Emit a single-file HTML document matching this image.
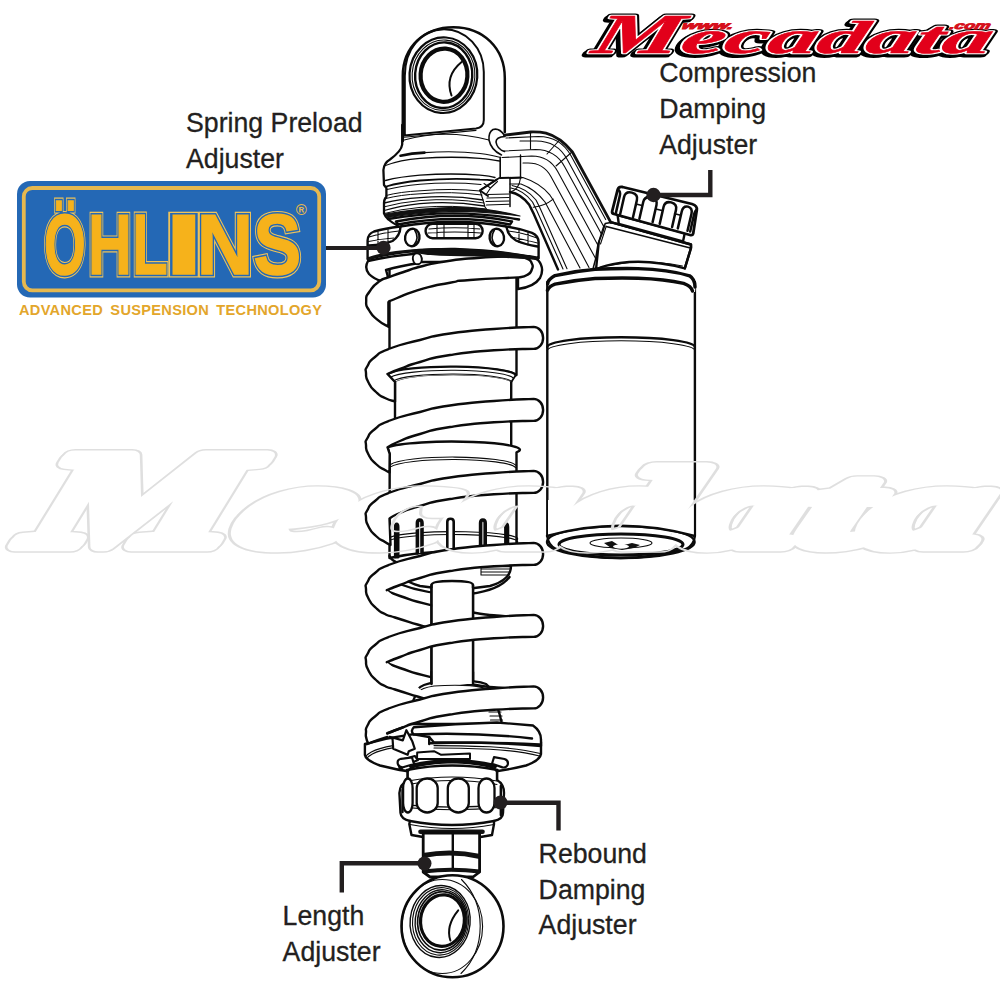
<!DOCTYPE html>
<html lang="en">
<head>
<meta charset="utf-8">
<title>Ohlins shock absorber adjusters</title>
<style>
html,body{margin:0;padding:0;background:#fff;}
body{width:1000px;height:1000px;overflow:hidden;position:relative;font-family:"Liberation Sans",sans-serif;}
svg{position:absolute;left:0;top:0;display:block;}
.lbl{font-family:"Liberation Sans",sans-serif;font-size:26.7px;fill:#231f20;stroke:#231f20;stroke-width:0.3px;}
.k{fill:none;stroke:#0b0b0b;stroke-width:2.4;stroke-linecap:round;stroke-linejoin:round;}
.kw{fill:#fff;stroke:#0b0b0b;stroke-width:2.4;stroke-linecap:round;stroke-linejoin:round;}
.t{fill:none;stroke:#0b0b0b;stroke-width:1.1;stroke-linecap:round;stroke-linejoin:round;}
.tw{fill:#fff;stroke:#0b0b0b;stroke-width:1.1;stroke-linecap:round;stroke-linejoin:round;}
.w{fill:#fff;stroke:none;}
.h{fill:none;stroke:#0b0b0b;stroke-width:3;stroke-linecap:round;stroke-linejoin:round;}
.ld{fill:none;stroke:#231f20;stroke-width:4.4;stroke-linecap:butt;stroke-linejoin:miter;}
</style>
</head>
<body>
<svg width="1000" height="1000" viewBox="0 0 1000 1000">
<g id="reservoir">
<path class="kw" d="M547.3,282 L547.3,536 Q548,545 556,549 Q620,567 686,549 Q694,545 694.9,536 L694.9,282 Z"/>
<ellipse class="k" cx="620.8" cy="542" rx="73.8" ry="16"/>
<path class="w" d="M548,536 L548,500 L693.7,500 L693.7,536 Q620,516 548,536Z"/>
<path class="k" d="M547,536 Q620,515.5 694.7,536"/>
<ellipse class="h" cx="621" cy="544.5" rx="62" ry="10.5"/>
<ellipse class="t" cx="621" cy="543" rx="31" ry="5"/>
<path d="M604,543 L612,541 L620,546 L632,543 L640,545 L634,548 L622,550 L611,548Z" fill="#111"/>
<ellipse cx="621" cy="546.5" rx="8" ry="2.2" fill="#fff"/>
<path class="k" d="M547.3,347 A73.8,9.8 0 0 1 694.9,347"/>
<path class="t" d="M547.3,350.6 A73.8,9.8 0 0 1 694.9,350.6"/>
<path class="w" d="M548,283 Q548,278.5 556,275.5 Q600,268.5 638,268.4 Q668,269 689.6,275.6 Q694.8,279 695.4,288 L695,292 L548,292 Z"/>
<path class="k" style="stroke-width:3.4" d="M547.6,284 Q548,279.5 555,275.6 Q575,271 595,269.2 Q616,268.3 638,268.6 Q668,269.4 689.6,275.8 Q694.8,279 695,287"/>
<path class="k" style="stroke-width:3.4" d="M547.4,290.5 Q549,286.5 555,284.2 Q575,280 595,278.5 Q616,277.8 638,278.2 Q665,279 683.6,283.4 Q691,286 692.5,291"/>
</g>
<g id="arm">
<path class="kw" d="M604.4,220.4 L691,244.5 L691,248 L684.8,268.4 Q650,259 620,263 Q605,265 596,269.5 L599,240 Z"/>
<path class="k" style="stroke-width:2.4" d="M604.4,220.4 L691,244.5 L691,248 L684.8,268.4"/>
<path class="k" style="stroke-width:1.6" d="M606.2,226.4 L690.3,248"/>
<path class="t" d="M597.2,268 Q615,263.5 638,261.8 Q660,261.8 682.4,266"/>
<path class="kw" d="M617.6,215 L684.8,233 L683,241.5 L618.8,224Z"/>
</g>
<g id="knob">
<path class="kw" style="stroke-width:2.8" d="M617.6,189.8 Q618.5,186.3 622.5,187 L692,204 Q697.5,205.8 696.8,210 L693.2,233.6 Q692.6,235.6 690,235 L614,214 Q611.6,213.2 612.2,211 Z"/>
<clipPath id="knobclip"><path d="M617.6,189.8 Q618.5,186.3 622.5,187 L692,204 Q697.5,205.8 696.8,210 L693.2,233.6 Q692.6,235.6 690,235 L614,214 Q611.6,213.2 612.2,211 Z"/></clipPath>
<g clip-path="url(#knobclip)">
<path class="k" style="stroke-width:2.5" d="M605.2,210.2 L609.2,193.2 Q610.5,187.4 615.9,188.6 Q621.2,190.1 619.8,195.9 L615.9,212.9"/>
<path class="k" style="stroke-width:2.5" d="M620.2,214.0 L624.1,196.9 Q625.4,191.2 631.9,192.6 Q638.3,194.4 636.9,200.1 L633.0,217.2"/>
<path class="k" style="stroke-width:2.5" d="M639.4,218.8 L643.3,201.7 Q644.7,196.0 651.3,197.4 Q657.9,199.3 656.5,205.0 L652.6,222.1"/>
<path class="k" style="stroke-width:2.5" d="M659.7,223.9 L663.6,206.8 Q664.9,201.0 671.2,202.4 Q677.4,204.1 676.0,209.9 L672.1,227.0"/>
<path class="k" style="stroke-width:2.5" d="M677.8,228.4 L681.8,211.3 Q683.1,205.6 688.0,206.6 Q692.8,208.0 691.5,213.8 L687.5,230.8"/>
<path class="k" style="stroke-width:2.5" d="M690.2,231.5 L694.1,214.4 Q695.4,208.7 699.4,209.4 Q703.2,210.6 701.9,216.4 L697.9,233.4"/>
</g>
<path class="k" style="stroke-width:1.6" d="M635.9,204.0 L642.1,205.6"/>
<path class="k" style="stroke-width:1.6" d="M655.8,209.0 L662.0,210.5"/>
<path class="k" style="stroke-width:1.6" d="M674.6,213.7 L680.8,215.2"/>
</g>
<g id="body">
<path class="kw" d="M389.5,262 L389.5,374 A65,9 0 0 1 516.5,375 L516.5,262 Z"/>
<path class="kw" d="M395,381 L395,447 A62,8 0 0 1 511.2,450 L511.2,381 A59,8.5 0 0 0 395,381Z"/>
<path class="w" d="M387.5,373.7 A65.5,9.3 0 0 1 515.7,375.2 L511.5,382 A59,8.5 0 0 0 395,382 Z"/>
<path class="k"  d="M387.5,373.7 A65.1,9.3 0 0 1 515.7,375.2"/>
<path class="k" style="stroke-width:1.8" d="M387.5,373.7 L395,382 M515.7,375.2 L511.3,382"/>
<path class="t"  d="M390.5,377.3 A62.5,9.0 0 0 1 513.6,378.3"/>
<path class="t"  d="M393.5,381.0 A59.9,8.8 0 0 1 511.5,381.5"/>
<path class="kw" d="M387.5,447.2 L389.7,454 L389.5,558 Q450,545 516.5,558 L516.5,452.3 A65.5,7.9 0 0 0 387.5,447.2Z"/>
<path class="t"  d="M390.5,464.5 A63.5,9.3 0 0 1 515.7,465.2"/>
<path class="t"  d="M390.5,466.9 A63.5,9.3 0 0 1 515.7,467.6"/>
<path class="t"  d="M390.0,537.5 A64.2,7.2 0 0 1 516.5,540.3"/>
<path class="t"  d="M390.0,540.3 A64.2,7.2 0 0 1 516.5,543.1"/>
<path class="kw" style="stroke-width:3.2" d="M395.5,557.0 L395.5,527.0 Q395.5,524.0 396.7,524.0 Q397.9,524.0 397.9,527.0 L397.9,557.0"/>
<path class="kw" style="stroke-width:3.6" d="M417.4,553.0 L417.4,523.0 Q417.4,520.0 419.7,520.0 Q422.0,520.0 422.0,523.0 L422.0,553.0"/>
<path class="kw" style="stroke-width:2.6" d="M447.3,549.0 L447.3,521.7 Q447.3,518.7 450.5,518.7 Q453.7,518.7 453.7,521.7 L453.7,549.0"/>
<path class="kw" style="stroke-width:3.6" d="M480.6,550.0 L480.6,523.0 Q480.6,520.0 482.9,520.0 Q485.2,520.0 485.2,523.0 L485.2,550.0"/>
<path class="kw" style="stroke-width:3.0" d="M505.6,553.0 L505.6,527.0 Q505.6,524.0 506.7,524.0 Q507.8,524.0 507.8,527.0 L507.8,553.0"/>
<path class="k" d="M389.5,556 Q392,563 410,566 Q450,571 492,566 Q512,562 516.5,556"/>
<path class="kw" d="M398,566 Q398,580 420,586 Q455,592 490,586 Q511,580 511,566 Z"/>
<path class="k" d="M399.5,584 Q430,596 470,594 Q500,590 509.5,577"/>
<path class="t" d="M481,563 L481,575 M481,566 L510,566 M481,569 L510,569 M481,572 L510,572 M481,575 L509,575"/>
<path class="kw" d="M431.5,585 Q431.5,581 452,581 Q473,581 473,585 L473,700 L431.5,700 Z"/>
<path class="kw" d="M414.8,697 Q416,688 424,685 Q434,681.4 452,680.4 Q476,680 486,684 Q489,686 490,690 Q498,705 502,724 L410,724 Q410,705 414.8,697 Z"/>
<path class="w" d="M433,676 L472,676 L472,684 L433,684Z"/>
<path class="k" d="M431.5,672 L431.5,681.8 M473,672 L473,680.2"/>
<path class="t" d="M418.5,692 Q421,688 434,686 Q452,684.6 470,685.6 Q484,686.8 488,690"/>
<path class="t" d="M486,700 L498,700 M487,704 L499,704 M488,708 L500,708 M489,712 L501,712 M490,716 L502,716 M490.5,720 L502.5,720"/>
</g>
<g id="topcap">
<path class="w" d="M402.7,125 L402.7,144.5 Q402,151 390,159.5 Q384,163 383.4,170 L384,185 L386.2,188 L386.2,197 Q384,199 384,203 L384,213.5 Q386,219 397.5,225.5 L512,225 L520,216 L486,195 L495,180.5 L500.2,177.5 L500.2,157 L505,132 L505,120 Z"/>
<path class="k" style="stroke-width:2.3" d="M402.2,125 L402.2,144.5 Q401.5,151 390,159.5 Q384,163 383.4,170 L384,185 L386.4,188 L386.4,197 Q384,199 384,203 L384,213.5 Q386,219.5 397.5,225.5"/>
<path class="k" style="stroke-width:2.6" d="M400.5,155.7 Q411.5,153.1 424.5,152.6"/>
<path class="t" d="M424.5,152.6 Q455,150.5 480,153.5 Q492,155 499.5,157.2"/>
<path class="t" style="stroke-width:1.3" d="M385.5,165.5 Q400,160 420,158.4 Q452,156.2 480,158.3 Q492,159.3 499.5,161"/>
<path class="t" style="stroke-width:1.3" d="M385.5,180.5 Q400,176.8 420,175.2 Q452,172.8 480,175.2 Q490,176.2 495,177.5"/>
<path class="k" style="stroke-width:1.8" d="M386.2,186.5 Q400,182.3 420,180.5 Q452,177.8 480,179.7 Q488,180 493.5,180.5"/>
<path class="k" style="stroke-width:1.6" d="M500.2,157.2 L500.2,177.5 L495,180.5 L480,190.2"/>
<path class="t" d="M497.5,181.5 L490.5,188 L486,194.7 M490.5,188 L484,183.5"/>
<path class="t" d="M387,189.5 Q400,186 420,184.2 Q452,181.8 481,184.5"/>
<path class="t" style="stroke-width:1.0" d="M386.0,195.5 Q400,191.8 420,190.8 Q452,188.0 480.0,191.0"/>
<path class="t" style="stroke-width:1.0" d="M386.0,198.5 Q400,194.8 420,193.8 Q452,191.0 482.0,195.0"/>
<path class="t" style="stroke-width:1.3" d="M384.3,203.0 Q400,199.0 420,197.6 Q452,194.8 483.0,200.0"/>
<path class="t" style="stroke-width:1.0" d="M384.3,206.8 Q400,202.4 420,200.6 Q452,197.8 484.0,203.0"/>
<path class="t" style="stroke-width:1.3" d="M384.3,210.5 Q400,205.8 420,203.6 Q452,200.8 484.5,206.0"/>
<path class="t" style="stroke-width:1.0" d="M384.3,213.5 Q400,209.2 420,207.4 Q452,204.6 486.0,209.0"/>
<path class="t" d="M480,190.5 L483,200 L485,207 L488,211"/>
<path class="w" d="M402.8,138 L402.8,76 C402.8,47 424,27.2 453.5,27.2 C483,27.2 504.8,48 504.8,78 L504.8,133 L489,138 Z"/>
<path class="k" style="stroke-width:2.5" d="M402.8,141 L402.8,76 C402.8,47 424,27.2 453.5,27.2 C483,27.2 504.8,48 504.8,78 L504.8,132"/>
<path class="k" style="stroke-width:2" d="M404.8,135.5 L404.8,76 C404.8,49 421,29.6 444,29.2 C466,29.2 483.8,48 483.8,72 L483.8,120 Q483.8,127.5 476,128.5 L404,135.5"/>
<path class="t" d="M404,137.3 L476,130.4"/>
<path class="t"  d="M404.2,140.0 Q445.4,128.4 489.0,140.0"/>
<g transform="rotate(4 443.5 75.2)">
<ellipse class="k" cx="443.4" cy="75.2" rx="33.9" ry="37.8" style="stroke-width:2.2"/>
<ellipse class="t" cx="443.5" cy="75.2" rx="31.4" ry="35.2"/>
<ellipse class="k" cx="443.7" cy="75.2" rx="28.6" ry="32.8" style="stroke-width:2.4"/>
<ellipse class="k" cx="444" cy="75.2" rx="23.4" ry="26.6" style="stroke-width:4.2"/>
</g>
<path class="k" style="stroke-width:2" d="M461.6,62 Q444.5,76 451.5,95.5"/>
</g>
<g id="spring">
<path class="k" d="M386.8,590.2 C391.2,592.1 385.0,591.0 400.0,596.0 C415.0,601.0 407.0,599.7 431.8,605.3 C456.6,610.9 451.8,609.3 474.5,612.8 C497.2,616.3 480.5,614.1 500.0,615.8 C519.5,617.5 522.0,617.3 533.0,618.0"/>
<path class="k" d="M386.8,662.2 C391.2,664.1 385.0,663.0 400.0,668.0 C415.0,673.0 407.0,671.7 431.8,677.3 C456.6,682.9 451.8,681.3 474.5,684.8 C497.2,688.3 480.5,686.1 500.0,687.8 C519.5,689.5 522.0,689.3 533.0,690.0"/>
<path class="w" d="M432.5,588 L472,588 L472,684 L432.5,684Z"/>
<path class="k" d="M431.5,585 L431.5,684 M473,585 L473,684"/>
<path class="kw" d="M512,254 Q530,254 538,260 Q545,268 540,278 Q534,287 518,289 L518,270 Z"/>
<path class="kw" d="M368,261 Q364,268 369,274 Q374,279 381,281 L388,277 L386,270 Q400,266 419.5,263 Q424,258 417,253.5 Q390,256 368,261Z"/>
<ellipse class="kw" style="stroke-width:1.9" cx="417.3" cy="258.8" rx="4.4" ry="5.5" transform="rotate(-10 417.3 258.8)"/>
<path class="w" d="M519.0,277.4 C521.7,276.6 522.7,277.6 527.0,275.0 C531.3,272.4 530.3,273.5 531.8,269.5 C533.3,265.5 533.4,266.7 531.6,263.0 C529.8,259.3 531.0,260.5 526.5,258.4 C522.0,256.3 525.2,257.3 518.0,256.7 C510.8,256.1 517.7,256.2 505.0,256.6 C492.3,257.0 498.3,256.4 480.0,257.8 C461.7,259.2 469.0,258.0 450.0,260.7 C431.0,263.4 438.0,262.4 423.0,266.0 C408.0,269.6 416.1,267.8 405.0,271.5 C393.9,275.2 398.4,273.6 389.7,277.0 C381.0,280.4 385.7,276.8 379.0,281.6 C372.3,286.4 373.9,285.1 369.6,291.5 C365.3,297.9 366.3,294.5 366.2,300.8 C366.1,307.1 365.4,304.2 369.2,310.5 C373.0,316.8 371.2,314.4 377.6,319.8 C384.0,325.2 384.8,324.5 388.4,326.8 L388.4,302.2 C390.9,301.0 384.5,303.0 396.0,298.5 C407.5,294.0 405.0,293.8 423.0,288.6 C441.0,283.4 434.3,285.7 450.0,282.8 C465.7,279.9 447.3,281.8 470.0,280.0 C492.7,278.2 502.0,278.3 518.0,277.4Z"/>
<path class="k" d="M519.0,277.4 C521.7,276.6 522.7,277.6 527.0,275.0 C531.3,272.4 530.3,273.5 531.8,269.5 C533.3,265.5 533.4,266.7 531.6,263.0 C529.8,259.3 531.0,260.5 526.5,258.4 C522.0,256.3 525.2,257.3 518.0,256.7 C510.8,256.1 517.7,256.2 505.0,256.6 C492.3,257.0 498.3,256.4 480.0,257.8 C461.7,259.2 469.0,258.0 450.0,260.7 C431.0,263.4 438.0,262.4 423.0,266.0 C408.0,269.6 416.1,267.8 405.0,271.5 C393.9,275.2 398.4,273.6 389.7,277.0 C381.0,280.4 385.7,276.8 379.0,281.6 C372.3,286.4 373.9,285.1 369.6,291.5 C365.3,297.9 366.3,294.5 366.2,300.8 C366.1,307.1 365.4,304.2 369.2,310.5 C373.0,316.8 371.2,314.4 377.6,319.8 C384.0,325.2 384.8,324.5 388.4,326.8 L388.4,302.2 C390.9,301.0 384.5,303.0 396.0,298.5 C407.5,294.0 405.0,293.8 423.0,288.6 C441.0,283.4 434.3,285.7 450.0,282.8 C465.7,279.9 447.3,281.8 470.0,280.0 C492.7,278.2 502.0,278.3 518.0,277.4Z"/>
<path class="w" d="M533.6,326.9 C520.4,327.6 521.9,326.8 494.0,329.0 C466.1,331.2 474.7,329.8 450.0,333.5 C425.3,337.2 440.0,335.0 420.0,340.0 C400.0,345.0 405.0,342.8 390.0,348.5 C375.0,354.2 382.5,351.2 375.0,357.0 C367.5,362.8 370.5,360.7 367.5,366.0 C364.5,371.3 365.7,367.5 366.0,373.0 C366.3,378.5 365.2,376.2 368.5,382.5 C371.8,388.8 370.5,386.8 376.0,392.0 C381.5,397.2 378.7,394.8 385.0,398.0 C391.3,401.2 391.7,400.3 395.0,401.5 L395.0,382.0 L387.5,374.0 C391.7,372.3 389.2,373.0 400.0,369.0 C410.8,365.0 403.3,366.7 420.0,362.0 C436.7,357.3 425.3,358.9 450.0,355.0 C474.7,351.1 466.1,352.3 494.0,350.3 C521.9,348.3 520.4,349.4 533.6,348.9 A9.5,11.0 0 0 0 533.6,326.9 Z"/>
<path class="k" d="M387.5,374.0 C391.7,372.3 389.2,373.0 400.0,369.0 C410.8,365.0 403.3,366.7 420.0,362.0 C436.7,357.3 425.3,358.9 450.0,355.0 C474.7,351.1 466.1,352.3 494.0,350.3 C521.9,348.3 520.4,349.4 533.6,348.9 A9.5,11.0 0 0 0 533.6,326.9 C520.4,327.6 521.9,326.8 494.0,329.0 C466.1,331.2 474.7,329.8 450.0,333.5 C425.3,337.2 440.0,335.0 420.0,340.0 C400.0,345.0 405.0,342.8 390.0,348.5 C375.0,354.2 382.5,351.2 375.0,357.0 C367.5,362.8 370.5,360.7 367.5,366.0 C364.5,371.3 365.7,367.5 366.0,373.0 C366.3,378.5 365.2,376.2 368.5,382.5 C371.8,388.8 370.5,386.8 376.0,392.0 C381.5,397.2 378.7,394.8 385.0,398.0 C391.3,401.2 391.7,400.3 395.0,401.5 L395.0,382.0 Z"/>
<path class="w" d="M533.6,398.9 C520.4,399.6 521.9,398.8 494.0,401.0 C466.1,403.2 474.7,401.8 450.0,405.5 C425.3,409.2 440.0,407.0 420.0,412.0 C400.0,417.0 405.0,414.8 390.0,420.5 C375.0,426.2 382.5,423.2 375.0,429.0 C367.5,434.8 370.5,432.7 367.5,438.0 C364.5,443.3 365.7,439.5 366.0,445.0 C366.3,450.5 365.2,448.2 368.5,454.5 C371.8,460.8 370.5,458.8 376.0,464.0 C381.5,469.2 380.5,467.2 385.0,470.0 C389.5,472.8 388.0,471.7 389.5,472.5 L389.7,454.0 L387.5,447.2 C391.7,445.1 389.2,445.4 400.0,441.0 C410.8,436.6 403.3,438.7 420.0,434.0 C436.7,429.3 425.3,430.9 450.0,427.0 C474.7,423.1 466.1,424.3 494.0,422.3 C521.9,420.3 520.4,421.4 533.6,420.9 A9.5,11.0 0 0 0 533.6,398.9 Z"/>
<path class="k" d="M387.5,447.2 C391.7,445.1 389.2,445.4 400.0,441.0 C410.8,436.6 403.3,438.7 420.0,434.0 C436.7,429.3 425.3,430.9 450.0,427.0 C474.7,423.1 466.1,424.3 494.0,422.3 C521.9,420.3 520.4,421.4 533.6,420.9 A9.5,11.0 0 0 0 533.6,398.9 C520.4,399.6 521.9,398.8 494.0,401.0 C466.1,403.2 474.7,401.8 450.0,405.5 C425.3,409.2 440.0,407.0 420.0,412.0 C400.0,417.0 405.0,414.8 390.0,420.5 C375.0,426.2 382.5,423.2 375.0,429.0 C367.5,434.8 370.5,432.7 367.5,438.0 C364.5,443.3 365.7,439.5 366.0,445.0 C366.3,450.5 365.2,448.2 368.5,454.5 C371.8,460.8 370.5,458.8 376.0,464.0 C381.5,469.2 380.5,467.2 385.0,470.0 C389.5,472.8 388.0,471.7 389.5,472.5 L389.7,454.0 Z"/>
<path class="w" d="M533.6,470.9 C520.4,471.6 521.9,470.8 494.0,473.0 C466.1,475.2 474.7,473.8 450.0,477.5 C425.3,481.2 440.0,479.0 420.0,484.0 C400.0,489.0 405.0,486.8 390.0,492.5 C375.0,498.2 382.5,495.2 375.0,501.0 C367.5,506.8 370.5,504.7 367.5,510.0 C364.5,515.3 365.7,511.5 366.0,517.0 C366.3,522.5 365.2,520.2 368.5,526.5 C371.8,532.8 370.5,530.8 376.0,536.0 C381.5,541.2 380.2,539.0 385.0,542.0 C389.8,545.0 388.7,544.0 390.5,545.0 L389.5,518.5 C393.0,516.7 389.8,517.2 400.0,513.0 C410.2,508.8 403.3,510.7 420.0,506.0 C436.7,501.3 425.3,502.9 450.0,499.0 C474.7,495.1 466.1,496.3 494.0,494.3 C521.9,492.3 520.4,493.4 533.6,492.9 A9.5,11.0 0 0 0 533.6,470.9 Z"/>
<path class="k" d="M389.5,518.5 C393.0,516.7 389.8,517.2 400.0,513.0 C410.2,508.8 403.3,510.7 420.0,506.0 C436.7,501.3 425.3,502.9 450.0,499.0 C474.7,495.1 466.1,496.3 494.0,494.3 C521.9,492.3 520.4,493.4 533.6,492.9 A9.5,11.0 0 0 0 533.6,470.9 C520.4,471.6 521.9,470.8 494.0,473.0 C466.1,475.2 474.7,473.8 450.0,477.5 C425.3,481.2 440.0,479.0 420.0,484.0 C400.0,489.0 405.0,486.8 390.0,492.5 C375.0,498.2 382.5,495.2 375.0,501.0 C367.5,506.8 370.5,504.7 367.5,510.0 C364.5,515.3 365.7,511.5 366.0,517.0 C366.3,522.5 365.2,520.2 368.5,526.5 C371.8,532.8 370.5,530.8 376.0,536.0 C381.5,541.2 380.2,539.0 385.0,542.0 C389.8,545.0 388.7,544.0 390.5,545.0 Z"/>
<path class="w" d="M533.6,542.9 C520.4,543.6 521.9,542.8 494.0,545.0 C466.1,547.2 474.7,545.8 450.0,549.5 C425.3,553.2 440.0,551.0 420.0,556.0 C400.0,561.0 405.0,558.8 390.0,564.5 C375.0,570.2 382.5,567.2 375.0,573.0 C367.5,578.8 370.5,576.7 367.5,582.0 C364.5,587.3 365.7,583.5 366.0,589.0 C366.3,594.5 365.2,592.2 368.5,598.5 C371.8,604.8 370.5,602.8 376.0,608.0 C381.5,613.2 378.7,610.8 385.0,614.0 C391.3,617.2 384.2,614.0 395.0,617.5 C405.8,621.0 403.8,620.3 417.5,624.5 C431.2,628.7 429.8,628.2 436.0,630.0 L386.8,590.2 C391.2,588.5 388.9,589.1 400.0,585.0 C411.1,580.9 403.3,582.7 420.0,578.0 C436.7,573.3 425.3,574.9 450.0,571.0 C474.7,567.1 466.1,568.3 494.0,566.3 C521.9,564.3 520.4,565.4 533.6,564.9 A9.5,11.0 0 0 0 533.6,542.9 Z"/>
<path class="k" d="M386.8,590.2 C391.2,588.5 388.9,589.1 400.0,585.0 C411.1,580.9 403.3,582.7 420.0,578.0 C436.7,573.3 425.3,574.9 450.0,571.0 C474.7,567.1 466.1,568.3 494.0,566.3 C521.9,564.3 520.4,565.4 533.6,564.9 A9.5,11.0 0 0 0 533.6,542.9 C520.4,543.6 521.9,542.8 494.0,545.0 C466.1,547.2 474.7,545.8 450.0,549.5 C425.3,553.2 440.0,551.0 420.0,556.0 C400.0,561.0 405.0,558.8 390.0,564.5 C375.0,570.2 382.5,567.2 375.0,573.0 C367.5,578.8 370.5,576.7 367.5,582.0 C364.5,587.3 365.7,583.5 366.0,589.0 C366.3,594.5 365.2,592.2 368.5,598.5 C371.8,604.8 370.5,602.8 376.0,608.0 C381.5,613.2 378.7,610.8 385.0,614.0 C391.3,617.2 384.2,614.0 395.0,617.5 C405.8,621.0 403.8,620.3 417.5,624.5 C431.2,628.7 429.8,628.2 436.0,630.0"/>
<path class="w" d="M533.6,614.9 C520.4,615.6 521.9,614.8 494.0,617.0 C466.1,619.2 474.7,617.8 450.0,621.5 C425.3,625.2 440.0,623.0 420.0,628.0 C400.0,633.0 405.0,630.8 390.0,636.5 C375.0,642.2 382.5,639.2 375.0,645.0 C367.5,650.8 370.5,648.7 367.5,654.0 C364.5,659.3 365.7,655.5 366.0,661.0 C366.3,666.5 365.2,664.2 368.5,670.5 C371.8,676.8 370.5,674.8 376.0,680.0 C381.5,685.2 378.7,682.8 385.0,686.0 C391.3,689.2 384.2,686.0 395.0,689.5 C405.8,693.0 403.8,692.3 417.5,696.5 C431.2,700.7 429.8,700.2 436.0,702.0 L386.8,662.2 C391.2,660.5 388.9,661.1 400.0,657.0 C411.1,652.9 403.3,654.7 420.0,650.0 C436.7,645.3 425.3,646.9 450.0,643.0 C474.7,639.1 466.1,640.3 494.0,638.3 C521.9,636.3 520.4,637.4 533.6,636.9 A9.5,11.0 0 0 0 533.6,614.9 Z"/>
<path class="k" d="M386.8,662.2 C391.2,660.5 388.9,661.1 400.0,657.0 C411.1,652.9 403.3,654.7 420.0,650.0 C436.7,645.3 425.3,646.9 450.0,643.0 C474.7,639.1 466.1,640.3 494.0,638.3 C521.9,636.3 520.4,637.4 533.6,636.9 A9.5,11.0 0 0 0 533.6,614.9 C520.4,615.6 521.9,614.8 494.0,617.0 C466.1,619.2 474.7,617.8 450.0,621.5 C425.3,625.2 440.0,623.0 420.0,628.0 C400.0,633.0 405.0,630.8 390.0,636.5 C375.0,642.2 382.5,639.2 375.0,645.0 C367.5,650.8 370.5,648.7 367.5,654.0 C364.5,659.3 365.7,655.5 366.0,661.0 C366.3,666.5 365.2,664.2 368.5,670.5 C371.8,676.8 370.5,674.8 376.0,680.0 C381.5,685.2 378.7,682.8 385.0,686.0 C391.3,689.2 384.2,686.0 395.0,689.5 C405.8,693.0 403.8,692.3 417.5,696.5 C431.2,700.7 429.8,700.2 436.0,702.0"/>
</g>
<g id="collar">
<path class="kw" d="M400,226.5 Q385,228.5 374,231.5 Q367.4,234 367.6,241 L367.6,259 Q410,248.5 455,249 Q500,250.5 538.6,258 L538.6,242 Q538.4,235.5 532,232.8 Q520,228.6 506.5,226.5 Q455,217 400,226.5 Z"/>
<path d="M368.3,258.5 Q380,254.5 396,252.4 Q420,249.6 440,249.4 Q470,249.8 500,253 Q520,255.2 538,258.6" fill="none" stroke="#111" stroke-width="2.8" stroke-linecap="round"/>
<path d="M412,250.6 Q430,249 440,249.2 Q470,250 488,252.2 Q515,254.8 538.5,258.2 L538.5,260 Q515,258.4 488,257 Q460,256 440,255.8 Q425,255 412,252.4Z" fill="#111"/>
<path class="k" d="M400.5,227 Q400,236 392.5,241 Q384,244.5 369,245.5"/>
<path class="k" d="M506.5,227 Q508,236 516,240.5 Q525,244.5 537.5,246.5"/>
<path class="t" d="M369,237 Q383,232.5 399,231 M378,231.5 L378,245 M388,229.5 L388,243 M368.5,241.5 Q380,239 394,238"/>
<path class="t" d="M508,231 Q522,232.5 537,238 M519,229.5 L519,242.5 M528,231.8 L528,245 M511,237 Q522,239 537.5,243"/>
<path class="kw" d="M396,221.5 Q455,210 512,221.5 L510,224.5 Q455,213.5 398,224.5Z"/>
<rect class="kw" x="425.6" y="223.8" width="57" height="14.4" rx="7" ry="7"/>
<path class="t" d="M429,229 Q455,226.5 480,229 M437,224.5 L437,237.5 M444,224.5 L444,237.5 M468,224.5 L468,237.5 M474,224.5 L474,237.5 M428,233 Q455,231 481,233"/>
<ellipse class="kw" cx="412.3" cy="237.5" rx="7.2" ry="8.8" transform="rotate(10 412.3 237.5)"/>
<path class="k" style="stroke-width:1.6" d="M414.8,230.3 Q419.8,238 413.8,245.3"/>
<ellipse class="kw" cx="496.8" cy="237.5" rx="7.2" ry="8.8" transform="rotate(-10 496.8 237.5)"/>
<path class="k" style="stroke-width:1.6" d="M494.3,230.3 Q489.3,238 495.3,245.3"/>
</g>
<path d="M385.5,214 Q420,208 455,207.3 Q490,208 520,216 Q490,211.5 455,211.3 Q420,212 388,217.5 Z" fill="#111" stroke="#111" stroke-width="1.2" stroke-linejoin="round"/>
<path class="k" d="M388,219 Q455,207.5 519,219.5"/>
<g id="hosearm">
<path class="w" d="M504,135 Q499,128 493,129.5 Q488.5,132 489,140 Q491,150 501,155 L501,157 L510,178 L510,192 Q521,194 529,205 L534,214.4 L558,269.5 L593,268 L598,243 L604,226 L611,222.4 L572.4,152 Q560,133 543.6,132.6 L530.8,132 Z"/>
<path class="k" style="stroke-width:1.6" d="M504.4,135.2 Q499,127.5 493,129.5 Q488.5,132 489,140 Q491,150 501.5,155"/>
<path class="k" style="stroke-width:1.6" d="M505,136.5 Q496,137 496,142 Q497,149 504.5,151.5"/>
<path d="M504.4,135.2 L530.8,132 Q540,131.8 546,133.2 Q560,137 572.4,152 L610.8,222.4" fill="none" stroke="#111" stroke-width="2.8" stroke-linecap="round" stroke-linejoin="round"/>
<path class="t" d="M506.0,138.0 L538.4,136.5 Q560.4,136.5 571.0,155.8 L605.7,219.5"/>
<path class="t" d="M520.0,141.0 L536.2,141.0 Q557.1,141.0 567.1,159.3 L604.0,227.0"/>
<path class="t" d="M504.0,151.0 L535.5,149.5 Q555.3,149.5 564.8,166.9 L601.7,234.5"/>
<path class="t" d="M502.0,157.5 L531.7,156.0 Q549.3,156.0 557.7,171.5 L597.8,245.0"/>
<path class="t" d="M523.0,163.0 L528.1,163.0 Q543.5,163.0 550.9,176.5 L595.6,258.5"/>
<path class="t" d="M510,178.4 L522.8,177.6 Q540,183 550,195.2 L553.2,200 L589,267.5"/>
<path class="t" d="M510,184 L521,184 Q535,189 545,202 L580,268"/>
<path class="k" d="M510,192 Q521.2,194 529.2,204.8 L534,214.4 L558,269.5"/>
<path class="t" d="M511,188 Q524,190.5 532.5,202 L537,211 L563,269"/>
<path class="t" d="M512,185.5 Q527,188.5 536,200 L540,208 L567,268.8"/>
<path class="k" style="stroke-width:1.5" d="M510,177.6 L510,206.5"/>
<path class="t" style="stroke-width:1.4" d="M520.5,155 L520.5,177"/>
<path class="k" style="stroke-width:1.8" d="M500.2,178 L521,177.5"/>
<path class="t" d="M520.5,178 Q519,190 510,192"/>
<path class="t" d="M488,194.5 L509,194 M487,198 L509,197.5 M486,201.5 L509,201 M486.5,205 L509,204.3"/>
<path class="k" style="stroke-width:2" d="M497,179.5 L480,190.5 L488,196"/>
<path class="t" d="M533.2,207.2 Q545,206 553.2,199.2"/>
<path class="t" d="M530.5,132 L530.5,149 M559.5,140 L547,154 M572,152 L556,166"/>
<path class="k" style="stroke-width:1.5" d="M610.8,222.4 L605.2,223.5 L602.8,232 L598,244 L595.6,259 L593.2,268"/>
<path class="t" d="M604,225 L598,243.5 M606,227 L600.5,244"/>
</g>
<g id="bottom">
<path class="kw" d="M364.9,744 L364.9,755 Q366,760.5 380,765.5 Q450,784 526,765.5 Q540,760.5 541,754 L541,742 Q450,720 364.9,744 Z"/>
<path class="t" d="M365.5,756.5 Q370,751.5 380,748.6 Q386,746.8 393,745.6"/>
<path class="t" d="M366.5,758.5 Q371,753.5 381,750.6 Q387,748.8 394,747.6"/>
<path class="t" d="M540.3,753.5 Q520,748.5 490,746.8 Q460,745.6 434,745.6"/>
<path class="t" d="M539.5,756 Q520,751 490,749.2 Q460,748 434,748"/>
<path class="kw" d="M414,727.2 Q455,723.5 497,722.5 L533,725.5 Q541,731 541,739.5 L541,746 Q500,742 434,742.5 L429.2,737 L413.6,734.4 Q410,731 414,727.2 Z"/>
<path class="k" d="M413.6,734.4 Q476,732 532,738.5"/>
<path class="k" d="M429.2,737 L429.2,744 M430,743.2 Q490,741.5 539.5,744.5"/>
<path class="w" d="M533.6,686.4 C520.4,687.1 521.9,686.3 494.0,688.5 C466.1,690.7 474.7,689.3 450.0,693.0 C425.3,696.7 440.0,694.5 420.0,699.5 C400.0,704.5 405.0,702.3 390.0,708.0 C375.0,713.7 382.5,710.7 375.0,716.5 C367.5,722.3 370.5,720.2 367.5,725.5 C364.5,730.8 366.4,728.2 366.0,732.5 C365.6,736.8 365.7,735.1 366.4,738.5 C367.1,741.9 367.5,741.4 368.0,742.8 L387.5,733.5 C391.7,731.8 389.2,732.5 400.0,728.5 C410.8,724.5 403.3,726.2 420.0,721.5 C436.7,716.8 425.3,718.4 450.0,714.5 C474.7,710.6 466.1,711.8 494.0,709.8 C521.9,707.8 520.4,708.9 533.6,708.4 A9.5,11.0 0 0 0 533.6,686.4 Z"/>
<path class="k" d="M387.5,733.5 C391.7,731.8 389.2,732.5 400.0,728.5 C410.8,724.5 403.3,726.2 420.0,721.5 C436.7,716.8 425.3,718.4 450.0,714.5 C474.7,710.6 466.1,711.8 494.0,709.8 C521.9,707.8 520.4,708.9 533.6,708.4 A9.5,11.0 0 0 0 533.6,686.4 C520.4,687.1 521.9,686.3 494.0,688.5 C466.1,690.7 474.7,689.3 450.0,693.0 C425.3,696.7 440.0,694.5 420.0,699.5 C400.0,704.5 405.0,702.3 390.0,708.0 C375.0,713.7 382.5,710.7 375.0,716.5 C367.5,722.3 370.5,720.2 367.5,725.5 C364.5,730.8 366.4,728.2 366.0,732.5 C365.6,736.8 365.7,735.1 366.4,738.5 C367.1,741.9 367.5,741.4 368.0,742.8"/>
<path class="k" d="M366.8,744.2 Q376,740.5 387.4,737"/>
<path class="kw" style="stroke-width:2.2" d="M389.6,736.8 L402.8,740.4 L406.4,730.2 L412.4,741.6 L414.8,748.8 L408.8,751.2 L407.6,754.8 L393.2,748.8 L392.6,739.2 Z"/>
<path class="k" style="stroke-width:2.6" d="M387.2,733.2 L402.8,727.4"/>
<path class="kw" style="stroke-width:2" d="M417.2,752.4 L434,751.2 L441.2,754.8 L470,753.6 L470,759 L417,759 Z"/>
<path class="kw" style="stroke-width:2.2" d="M398,760.8 L414.8,756 L418,760 L404,766 L400,770 Z"/>
<path class="kw" d="M407.7,772 Q408,764 452,762 Q496,764 497,772 L497,782 L407.7,782Z"/>
<path class="h" style="stroke-width:4.2" d="M411,766 Q452,756 495,766"/>
<path class="k" d="M407,770 Q452,761 497.5,770"/>
<path class="kw" style="stroke-width:2.2" d="M398,764.5 Q396.5,760 401,758.8 L412,757.5 L414,764 L403,767.2 Q399.5,767.5 398,764.5Z"/>
<path class="kw" style="stroke-width:2.2" d="M507.6,765 Q509,760.5 504.5,759 L494,757.2 L492,763.8 L502.5,767.4 Q506,768 507.6,765Z"/>
<path class="kw" d="M407.7,772 L407.7,780 Q400,784 399.4,793 L400.5,813 Q401,819 410,821 L409.3,824 L411.5,835 Q452,843 492,835 L494,824 L494,821 Q503,819 503,813 L504,793 Q504,784 497,780 L497,772"/>
<path class="t" d="M408,781 Q452,773 497,781"/>
<path class="t" d="M408,784.5 Q452,776.5 497,784.5"/>
<path class="k" d="M410,821 Q452,829 494,821"/>
<path class="t" d="M410,824.5 Q452,832.5 494,824.5"/>
<path class="t" d="M403,804.6 Q452,809.6 501,804.6"/>
<path class="t" d="M403,807.2 Q452,812.2 501,807.2"/>
<rect class="kw" style="stroke-width:2.3" x="403.1" y="778.5" width="9.5" height="34" rx="4.8" ry="9.5"/>
<rect class="kw" style="stroke-width:2.3" x="416.7" y="778.5" width="21.0" height="34" rx="10.5" ry="9.5"/>
<rect class="kw" style="stroke-width:2.3" x="447.8" y="778.5" width="21.0" height="34" rx="10.5" ry="9.5"/>
<rect class="kw" style="stroke-width:2.3" x="478.5" y="778.5" width="16.0" height="34" rx="8.0" ry="9.5"/>
<path class="k" d="M402.5,790 L402.5,812 M500.8,786 L500.8,815"/>
<path d="M420.5,831.8 L482.5,831.8" fill="none" stroke="#111" stroke-width="4.6" stroke-linecap="round"/>
<path class="kw" style="stroke-width:2.8" d="M423.2,833 L479.6,833 L479.6,872 L473,877 L430,877 L423.2,872 Z"/>
<path class="k" d="M452.8,833 L452.8,870"/>
<path d="M423,855.5 Q452,850 480,856.5" fill="none" stroke="#111" stroke-width="5"/>
<path d="M423.2,871.5 Q452,868 479.6,871.5" fill="none" stroke="#111" stroke-width="4"/>
<circle class="kw" cx="452.5" cy="926.3" r="51" style="stroke-width:2.6"/>
<ellipse class="t" cx="442.3" cy="926.5" rx="40.3" ry="47"/>
<path class="t" d="M461.5,879.5 C473,891 480.2,907 480.2,926 C480.2,946 473,962 461,973.5"/>
<g transform="rotate(6 441 921)">
<ellipse class="t" cx="440.2" cy="921.6" rx="30" ry="36" style="stroke-width:1.4"/>
<ellipse class="t" cx="440.6" cy="921.4" rx="28" ry="33.8"/>
<ellipse class="t" cx="441.2" cy="921.2" rx="26" ry="31.5" style="stroke-width:1.4"/>
<ellipse class="k" cx="441.8" cy="920.8" rx="24.2" ry="29.2" style="stroke-width:1.7"/>
<ellipse class="k" cx="442.4" cy="920.4" rx="21.9" ry="25.8" style="stroke-width:3.2"/>
</g>
<path class="k" style="stroke-width:2" d="M458.2,910.4 Q445.5,926 450.4,940.5"/>
</g>
<g id="leaders">
<path class="ld" style="stroke-width:4" d="M326,247.9 L383,247.9"/><circle cx="383.5" cy="247.8" r="7.1" fill="#231f20"/>
<path class="ld" d="M653,195 L710.3,195 L710.3,170"/><circle cx="653.5" cy="195" r="7.2" fill="#231f20"/>
<path class="ld" d="M501,802.8 L558.5,802.8 L558.5,830.6"/><circle cx="500.5" cy="802.5" r="7" fill="#231f20"/>
<path class="ld" d="M425,863.2 L341.8,863.2 L341.8,892.5"/><circle cx="424.5" cy="863.5" r="7" fill="#231f20"/>
</g>
<g id="labels">
<text class="lbl" transform="translate(186.0,131.8) scale(1,1.055)">Spring Preload</text>
<text class="lbl" transform="translate(186.0,168.0) scale(1,1.055)">Adjuster</text>
<text class="lbl" transform="translate(659.2,81.8) scale(1,1.055)">Compression</text>
<text class="lbl" transform="translate(659.2,118.2) scale(1,1.055)">Damping</text>
<text class="lbl" transform="translate(659.2,153.8) scale(1,1.055)">Adjuster</text>
<text class="lbl" transform="translate(538.6,863.0) scale(1,1.055)">Rebound</text>
<text class="lbl" transform="translate(538.6,899.0) scale(1,1.055)">Damping</text>
<text class="lbl" transform="translate(538.6,934.2) scale(1,1.055)">Adjuster</text>
<text class="lbl" transform="translate(282.6,925.4) scale(1,1.055)">Length</text>
<text class="lbl" transform="translate(282.6,961.0) scale(1,1.055)">Adjuster</text>
</g>
<g id="ohlins" role="img" aria-label="ÖHLINS ADVANCED SUSPENSION TECHNOLOGY"><title>ÖHLINS</title>
<rect x="17" y="181" width="309" height="116.5" rx="13" ry="13" fill="#2468b5"/>
<rect x="23.8" y="188" width="295.4" height="102.3" rx="8.5" ry="8.5" fill="none" stroke="#e6b84f" stroke-width="3.8"/>
<g font-family="'Liberation Sans',sans-serif" font-weight="bold" font-size="86">
<text y="273.5" fill="none" stroke="#eec35a" stroke-width="6.8" stroke-linejoin="miter"><tspan x="44.1" textLength="41.7" lengthAdjust="spacingAndGlyphs">Ö</tspan><tspan x="88.1" textLength="43.9" lengthAdjust="spacingAndGlyphs">H</tspan><tspan x="132.3" textLength="35.4" lengthAdjust="spacingAndGlyphs">L</tspan><tspan x="164.6" textLength="38.8" lengthAdjust="spacingAndGlyphs">I</tspan><tspan x="196.8" textLength="56.4" lengthAdjust="spacingAndGlyphs">N</tspan><tspan x="253.5" textLength="47.6" lengthAdjust="spacingAndGlyphs">S</tspan></text>
<text y="273.5" fill="none" stroke="#2468b5" stroke-width="4.6" stroke-linejoin="miter"><tspan x="44.1" textLength="41.7" lengthAdjust="spacingAndGlyphs">Ö</tspan><tspan x="88.1" textLength="43.9" lengthAdjust="spacingAndGlyphs">H</tspan><tspan x="132.3" textLength="35.4" lengthAdjust="spacingAndGlyphs">L</tspan><tspan x="164.6" textLength="38.8" lengthAdjust="spacingAndGlyphs">I</tspan><tspan x="196.8" textLength="56.4" lengthAdjust="spacingAndGlyphs">N</tspan><tspan x="253.5" textLength="47.6" lengthAdjust="spacingAndGlyphs">S</tspan></text>
<text y="273.5" fill="#f6b21b" stroke="#f6b21b" stroke-width="1.6"><tspan x="44.1" textLength="41.7" lengthAdjust="spacingAndGlyphs">Ö</tspan><tspan x="88.1" textLength="43.9" lengthAdjust="spacingAndGlyphs">H</tspan><tspan x="132.3" textLength="35.4" lengthAdjust="spacingAndGlyphs">L</tspan><tspan x="164.6" textLength="38.8" lengthAdjust="spacingAndGlyphs">I</tspan><tspan x="196.8" textLength="56.4" lengthAdjust="spacingAndGlyphs">N</tspan><tspan x="253.5" textLength="47.6" lengthAdjust="spacingAndGlyphs">S</tspan></text>
</g>
<text x="295.8" y="215.4" font-family="'Liberation Sans',sans-serif" font-size="15" font-weight="bold" fill="#e6b84f">®</text>
<text x="19" y="315" font-family="'Liberation Sans',sans-serif" font-weight="bold" font-size="14.6" fill="#e3a62b" textLength="303" lengthAdjust="spacing" word-spacing="3">ADVANCED SUSPENSION TECHNOLOGY</text>
</g>
<g id="mecadata" role="img" aria-label="www.Mecadata.com"><title>Mecadata</title><g font-family="'Liberation Serif',serif" font-weight="bold" font-style="italic">
<g transform="translate(590,53) scale(2.13,1) skewX(-8)" font-size="46">
<text x="-0.8" y="2.4" fill="#000" stroke="#000" stroke-width="5.2" stroke-linejoin="round"><tspan font-size="56.5" textLength="41" lengthAdjust="spacingAndGlyphs">M</tspan><tspan dx="0.5">ecadata</tspan></text>
<text x="0" y="0" fill="#000" stroke="#000" stroke-width="5.0" stroke-linejoin="round"><tspan font-size="56.5" textLength="41" lengthAdjust="spacingAndGlyphs">M</tspan><tspan dx="0.5">ecadata</tspan></text>
<text x="0" y="0" fill="#fff" stroke="#fff" stroke-width="2.6" stroke-linejoin="round"><tspan font-size="56.5" textLength="41" lengthAdjust="spacingAndGlyphs">M</tspan><tspan dx="0.5">ecadata</tspan></text>
<text x="0" y="0" fill="#e2001a" stroke="#e2001a" stroke-width="0.5"><tspan font-size="56.5" textLength="41" lengthAdjust="spacingAndGlyphs">M</tspan><tspan dx="0.5">ecadata</tspan></text>
</g>
<g font-family="'Liberation Sans',sans-serif" font-size="10.5" fill="#d6101c" stroke="#d6101c" stroke-width="0.9">
<text transform="translate(681,28.5) scale(1.9,1) skewX(-12)" x="0" y="0">www.</text>
<text transform="translate(949,28.5) scale(1.65,1) skewX(-12)" x="0" y="0">.com</text>
</g>
</g></g>
<g id="watermark" aria-label="Mecadata" font-family="'Liberation Serif',serif" font-weight="bold" font-style="italic">
<mask id="wmmask" maskUnits="userSpaceOnUse" x="0" y="380" width="1000" height="240">
<rect x="0" y="380" width="1000" height="240" fill="#fff"/>
<g transform="translate(-1393,418.3) scale(2.400,2.36)"><g transform="translate(590,53) scale(2.13,1) skewX(-8)" font-size="46">
<text x="-0.4" y="1.2" fill="#000" stroke="#000" stroke-width="4.5" stroke-linejoin="round"><tspan font-size="56.5" textLength="41" lengthAdjust="spacingAndGlyphs">M</tspan><tspan dx="0.5">ecadata</tspan></text>
<text x="0" y="0" fill="#000" stroke="#000" stroke-width="4.5" stroke-linejoin="round"><tspan font-size="56.5" textLength="41" lengthAdjust="spacingAndGlyphs">M</tspan><tspan dx="0.5">ecadata</tspan></text>
</g></g>
</mask>
<g mask="url(#wmmask)">
<g transform="translate(-1393,418.3) scale(2.400,2.36)"><g transform="translate(590,53) scale(2.13,1) skewX(-8)" font-size="46">
<text x="-0.4" y="1.2" fill="#dfdfdf" stroke="#dfdfdf" stroke-width="5.7" stroke-linejoin="round"><tspan font-size="56.5" textLength="41" lengthAdjust="spacingAndGlyphs">M</tspan><tspan dx="0.5">ecadata</tspan></text>
<text x="0" y="0" fill="#dfdfdf" stroke="#dfdfdf" stroke-width="5.7" stroke-linejoin="round"><tspan font-size="56.5" textLength="41" lengthAdjust="spacingAndGlyphs">M</tspan><tspan dx="0.5">ecadata</tspan></text>
</g></g>
</g>
</g>
</svg>
</body>
</html>
